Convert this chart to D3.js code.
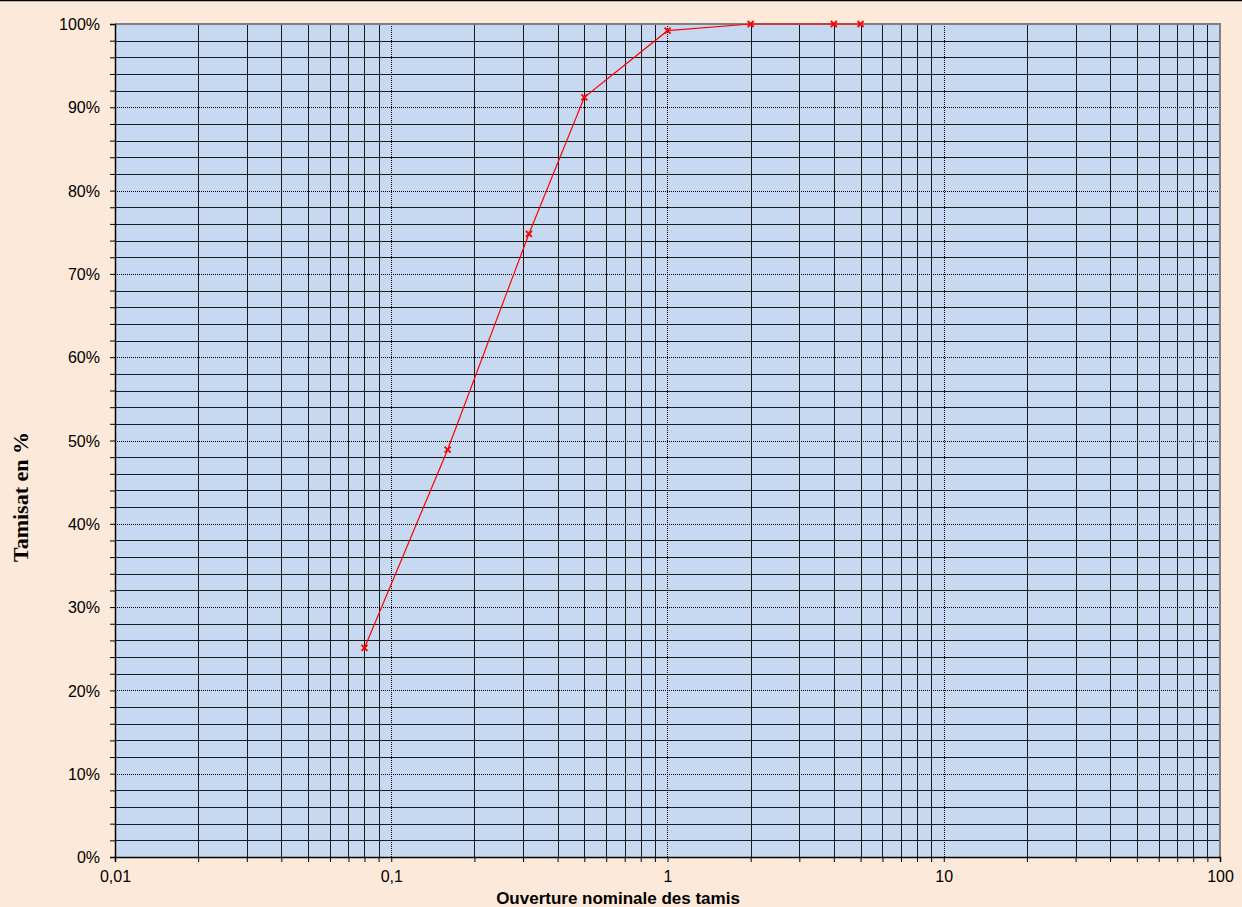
<!DOCTYPE html>
<html>
<head>
<meta charset="utf-8">
<script src="https://cdn.jsdelivr.net/npm/d3@7"></script>
<style>
  body { margin: 0; background: #fde9d9; }
  svg { display: block; }
</style>
</head>
<body>
<svg id="chart" width="1242" height="907"></svg>
<script>
// sieve openings (mm) and passing percentages
let openings = [0.08, 0.16, 0.315, 0.5, 1, 2, 4, 5];
let passing = [25.1, 48.9, 74.8, 91.2, 99.2, 100, 100, 100];

let decades = [0.01, 0.1, 1, 10, 100];
let decadeLabels = ["0,01", "0,1", "1", "10", "100"];
let yMajor = [0, 10, 20, 30, 40, 50, 60, 70, 80, 90, 100];

const svg = d3.select("#chart");
const W = 1242, H = 907;
const margin = {left: 115, right: 22, top: 24, bottom: 50};

svg.append("rect").attr("width", W).attr("height", H).attr("fill", "#fde9d9");
svg.append("line").attr("x1", 0).attr("x2", W).attr("y1", 0.5).attr("y2", 0.5)
    .attr("stroke", "#000").attr("stroke-width", 1.5);

let x = d3.scaleLog().domain([0.01, 100]).range([margin.left, W - margin.right]);
let y = d3.scaleLinear().domain([0, 100]).range([H - margin.bottom, margin.top]);

// minor x positions 2..9 per decade
let xMinor = [];
for (let d = 0; d < decades.length - 1; d++) {
    for (let k = 2; k <= 9; k++) {
        xMinor.push(decades[d] * k);
    }
}
let yMinor = d3.range(0, 101, 2).filter(v => v % 10 !== 0);

let plot = svg.append("g");
plot.append("rect")
    .attr("x", x(0.01)).attr("y", y(100))
    .attr("width", x(100) - x(0.01)).attr("height", y(0) - y(100))
    .attr("fill", "#c6d9f0");

// gridlines
plot.selectAll(".hminor").data(yMinor).enter().append("line")
    .attr("x1", x(0.01)).attr("x2", x(100))
    .attr("y1", d => Math.round(y(d)) + 0.5).attr("y2", d => Math.round(y(d)) + 0.5)
    .attr("stroke", "#1a1a1a").attr("stroke-width", 1);
plot.selectAll(".vminor").data(xMinor).enter().append("line")
    .attr("y1", y(0)).attr("y2", y(100))
    .attr("x1", d => Math.round(x(d)) + 0.5).attr("x2", d => Math.round(x(d)) + 0.5)
    .attr("stroke", "#1a1a1a").attr("stroke-width", 1);
plot.selectAll(".hmajor").data(yMajor.slice(1, -1)).enter().append("line")
    .attr("x1", x(0.01)).attr("x2", x(100))
    .attr("y1", d => Math.round(y(d)) + 0.5).attr("y2", d => Math.round(y(d)) + 0.5)
    .attr("stroke", "#000").attr("stroke-width", 1).attr("stroke-dasharray", "1,1");
plot.selectAll(".vmajor").data(decades.slice(1, -1)).enter().append("line")
    .attr("y1", y(0)).attr("y2", y(100))
    .attr("x1", d => Math.round(x(d)) + 0.5).attr("x2", d => Math.round(x(d)) + 0.5)
    .attr("stroke", "#000").attr("stroke-width", 1).attr("stroke-dasharray", "1,1");

// plot border (top/right grey)
plot.append("path")
    .attr("d", `M${x(0.01)},${y(100)}H${x(100)}V${y(0)}`)
    .attr("fill", "none").attr("stroke", "#808080").attr("stroke-width", 2);

// axes
let yAxis = d3.axisLeft(y).tickValues(d3.range(0, 101, 2)).tickSize(5)
    .tickFormat(d => d % 10 === 0 ? d + "%" : "");
let gy = svg.append("g").attr("transform", `translate(${x(0.01)},0)`).call(yAxis);
gy.select(".domain").attr("stroke", "#000").attr("stroke-width", 1.5);
gy.selectAll("text").attr("font-family", "Liberation Sans, Arial, sans-serif")
    .attr("font-size", 16).attr("fill", "#000").attr("x", -15).attr("dy", "0.35em");

let xAxis = d3.axisBottom(x).tickValues(decades.concat(xMinor)).tickSize(5)
    .tickFormat(d => { let i = decades.indexOf(d); return i >= 0 ? decadeLabels[i] : ""; });
let gx = svg.append("g").attr("transform", `translate(0,${y(0)})`).call(xAxis);
gx.select(".domain").attr("stroke", "#000").attr("stroke-width", 1.5);
gx.selectAll("text").attr("font-family", "Liberation Sans, Arial, sans-serif")
    .attr("font-size", 16).attr("fill", "#000").attr("y", 14);

// data line
let line = d3.line().x((d, i) => x(openings[i])).y(d => y(d));
svg.append("path").datum(passing).attr("d", line)
    .attr("fill", "none").attr("stroke", "#ff0000").attr("stroke-width", 1.2);

// markers
let s = 3;
svg.selectAll(".mk").data(passing).enter().append("path")
    .attr("d", (d, i) => {
        let cx = x(openings[i]), cy = y(d);
        return `M${cx - s},${cy - s}L${cx + s},${cy + s}M${cx - s},${cy + s}L${cx + s},${cy - s}`;
    })
    .attr("stroke", "#ff0000").attr("stroke-width", 1.8);

// titles
svg.append("text").attr("x", 618).attr("y", 904)
    .attr("text-anchor", "middle")
    .attr("font-family", "Liberation Sans, Arial, sans-serif")
    .attr("font-size", 17).attr("font-weight", "bold")
    .text("Ouverture nominale des tamis");
svg.append("text")
    .attr("transform", "translate(28,497) rotate(-90)")
    .attr("text-anchor", "middle")
    .attr("font-family", "Liberation Serif, Times New Roman, serif")
    .attr("font-size", 22).attr("font-weight", "bold")
    .text("Tamisat en %");
</script>
</body>
</html>
